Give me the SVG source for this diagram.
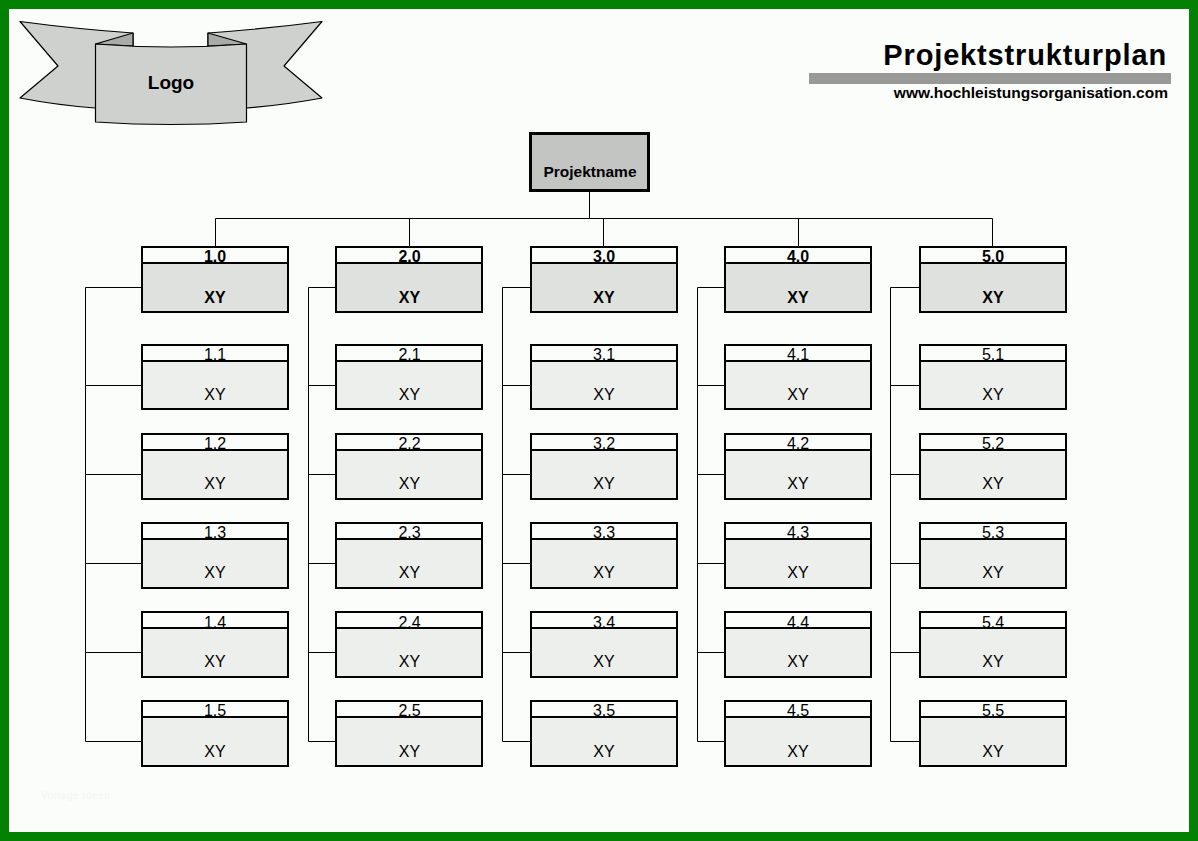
<svg xmlns="http://www.w3.org/2000/svg" width="1198" height="841" viewBox="0 0 1198 841">
<style>
text{font-family:"Liberation Sans",Arial,sans-serif;fill:#000;text-anchor:middle}
.t{font-size:16px}
.b{font-weight:bold}
.box{stroke:#000;stroke-width:2}
.hd{fill:#fbfdfa}
.m{fill:#dfe1de}
.s{fill:#edefec}
.rib{fill:#cfd1ce;stroke:#000;stroke-width:1.2;stroke-linejoin:round}
.fold{fill:#a9aba8;stroke:#000;stroke-width:1.2;stroke-linejoin:round}
#connectors path{fill:none;stroke:#000;stroke-width:1}
</style>
<rect x="4.5" y="4.5" width="1189" height="832" fill="#fbfdfa" stroke="#028102" stroke-width="9"/>
<text x="41" y="799" style="font-size:10px;letter-spacing:.6px;text-anchor:start;fill:#f3f5f1">Vorlage Ideen</text>
<g id="logo">
<path class="rib" d="M20 21.5Q76 29 133 33L133 60L95 108Q56 105 20 98L58 66Z"/>
<path class="rib" d="M322 21.5Q265 29 208 33L208 60L246 108Q285 105 322 98L284 66Z"/>
<path class="fold" d="M133 33L95.500 44L133 46Z"/>
<path class="fold" d="M208 33L246.500 44L208 46Z"/>
<path class="rib" d="M95.500 44Q171 50 246.500 44L246.500 122Q171 127 95.500 122Z"/>
<text x="171" y="89" class="b" style="font-size:19px">Logo</text>
</g>
<g id="title">
<text x="1167" y="65" class="b" style="font-size:29px;letter-spacing:.85px;text-anchor:end">Projektstrukturplan</text>
<rect x="809" y="73" width="362" height="11" fill="#999a98"/>
<text x="1168" y="98" class="b" style="font-size:15.500px;text-anchor:end">www.hochleistungsorganisation.com</text>
</g>
<g id="connectors">
<path d="M589.500 191V218.500M215.500 247V218.500H992.500V247M409.500 218.500V247M603.500 218.500V247M798.500 218.500V247"/>
<path d="M142 287.500H85.500V741.500H142M85.500 385.500H142M85.500 474.500H142M85.500 563.500H142M85.500 652.500H142"/>
<path d="M336 287.500H308.500V741.500H336M308.500 385.500H336M308.500 474.500H336M308.500 563.500H336M308.500 652.500H336"/>
<path d="M531 287.500H502.500V741.500H531M502.500 385.500H531M502.500 474.500H531M502.500 563.500H531M502.500 652.500H531"/>
<path d="M725 287.500H697.500V741.500H725M697.500 385.500H725M697.500 474.500H725M697.500 563.500H725M697.500 652.500H725"/>
<path d="M920 287.500H890.500V741.500H920M890.500 385.500H920M890.500 474.500H920M890.500 563.500H920M890.500 652.500H920"/>
</g>
<g id="root"><rect x="530.500" y="133.500" width="118" height="57" fill="#c3c5c2" stroke="#000" stroke-width="3"/><text x="590" y="177" class="b" style="font-size:15.500px">Projektname</text></g>
<g id="n1-0"><rect class="box hd" x="142" y="247" width="146" height="16"/><text x="215" y="262" class="b t">1.0</text><rect class="box m" x="142" y="263" width="146" height="49"/><text x="215" y="303" class="b t">XY</text></g>
<g id="n1-1"><rect class="box hd" x="142" y="345" width="146" height="16"/><text x="215" y="360" class="t">1.1</text><rect class="box s" x="142" y="361" width="146" height="48"/><text x="215" y="400" class="t">XY</text></g>
<g id="n1-2"><rect class="box hd" x="142" y="434" width="146" height="16"/><text x="215" y="449" class="t">1.2</text><rect class="box s" x="142" y="450" width="146" height="49"/><text x="215" y="489" class="t">XY</text></g>
<g id="n1-3"><rect class="box hd" x="142" y="523" width="146" height="16"/><text x="215" y="538" class="t">1.3</text><rect class="box s" x="142" y="539" width="146" height="49"/><text x="215" y="578" class="t">XY</text></g>
<g id="n1-4"><rect class="box hd" x="142" y="612" width="146" height="16"/><text x="215" y="627.500" class="t">1.4</text><rect class="box s" x="142" y="628" width="146" height="49"/><text x="215" y="667" class="t">XY</text></g>
<g id="n1-5"><rect class="box hd" x="142" y="701" width="146" height="16"/><text x="215" y="716" class="t">1.5</text><rect class="box s" x="142" y="717" width="146" height="49"/><text x="215" y="757" class="t">XY</text></g>
<g id="n2-0"><rect class="box hd" x="336" y="247" width="146" height="16"/><text x="409.500" y="262" class="b t">2.0</text><rect class="box m" x="336" y="263" width="146" height="49"/><text x="409.500" y="303" class="b t">XY</text></g>
<g id="n2-1"><rect class="box hd" x="336" y="345" width="146" height="16"/><text x="409.500" y="360" class="t">2.1</text><rect class="box s" x="336" y="361" width="146" height="48"/><text x="409.500" y="400" class="t">XY</text></g>
<g id="n2-2"><rect class="box hd" x="336" y="434" width="146" height="16"/><text x="409.500" y="449" class="t">2.2</text><rect class="box s" x="336" y="450" width="146" height="49"/><text x="409.500" y="489" class="t">XY</text></g>
<g id="n2-3"><rect class="box hd" x="336" y="523" width="146" height="16"/><text x="409.500" y="538" class="t">2.3</text><rect class="box s" x="336" y="539" width="146" height="49"/><text x="409.500" y="578" class="t">XY</text></g>
<g id="n2-4"><rect class="box hd" x="336" y="612" width="146" height="16"/><text x="409.500" y="627.500" class="t">2.4</text><rect class="box s" x="336" y="628" width="146" height="49"/><text x="409.500" y="667" class="t">XY</text></g>
<g id="n2-5"><rect class="box hd" x="336" y="701" width="146" height="16"/><text x="409.500" y="716" class="t">2.5</text><rect class="box s" x="336" y="717" width="146" height="49"/><text x="409.500" y="757" class="t">XY</text></g>
<g id="n3-0"><rect class="box hd" x="531" y="247" width="146" height="16"/><text x="604" y="262" class="b t">3.0</text><rect class="box m" x="531" y="263" width="146" height="49"/><text x="604" y="303" class="b t">XY</text></g>
<g id="n3-1"><rect class="box hd" x="531" y="345" width="146" height="16"/><text x="604" y="360" class="t">3.1</text><rect class="box s" x="531" y="361" width="146" height="48"/><text x="604" y="400" class="t">XY</text></g>
<g id="n3-2"><rect class="box hd" x="531" y="434" width="146" height="16"/><text x="604" y="449" class="t">3.2</text><rect class="box s" x="531" y="450" width="146" height="49"/><text x="604" y="489" class="t">XY</text></g>
<g id="n3-3"><rect class="box hd" x="531" y="523" width="146" height="16"/><text x="604" y="538" class="t">3.3</text><rect class="box s" x="531" y="539" width="146" height="49"/><text x="604" y="578" class="t">XY</text></g>
<g id="n3-4"><rect class="box hd" x="531" y="612" width="146" height="16"/><text x="604" y="627.500" class="t">3.4</text><rect class="box s" x="531" y="628" width="146" height="49"/><text x="604" y="667" class="t">XY</text></g>
<g id="n3-5"><rect class="box hd" x="531" y="701" width="146" height="16"/><text x="604" y="716" class="t">3.5</text><rect class="box s" x="531" y="717" width="146" height="49"/><text x="604" y="757" class="t">XY</text></g>
<g id="n4-0"><rect class="box hd" x="725" y="247" width="146" height="16"/><text x="798" y="262" class="b t">4.0</text><rect class="box m" x="725" y="263" width="146" height="49"/><text x="798" y="303" class="b t">XY</text></g>
<g id="n4-1"><rect class="box hd" x="725" y="345" width="146" height="16"/><text x="798" y="360" class="t">4.1</text><rect class="box s" x="725" y="361" width="146" height="48"/><text x="798" y="400" class="t">XY</text></g>
<g id="n4-2"><rect class="box hd" x="725" y="434" width="146" height="16"/><text x="798" y="449" class="t">4.2</text><rect class="box s" x="725" y="450" width="146" height="49"/><text x="798" y="489" class="t">XY</text></g>
<g id="n4-3"><rect class="box hd" x="725" y="523" width="146" height="16"/><text x="798" y="538" class="t">4.3</text><rect class="box s" x="725" y="539" width="146" height="49"/><text x="798" y="578" class="t">XY</text></g>
<g id="n4-4"><rect class="box hd" x="725" y="612" width="146" height="16"/><text x="798" y="627.500" class="t">4.4</text><rect class="box s" x="725" y="628" width="146" height="49"/><text x="798" y="667" class="t">XY</text></g>
<g id="n4-5"><rect class="box hd" x="725" y="701" width="146" height="16"/><text x="798" y="716" class="t">4.5</text><rect class="box s" x="725" y="717" width="146" height="49"/><text x="798" y="757" class="t">XY</text></g>
<g id="n5-0"><rect class="box hd" x="920" y="247" width="146" height="16"/><text x="993" y="262" class="b t">5.0</text><rect class="box m" x="920" y="263" width="146" height="49"/><text x="993" y="303" class="b t">XY</text></g>
<g id="n5-1"><rect class="box hd" x="920" y="345" width="146" height="16"/><text x="993" y="360" class="t">5.1</text><rect class="box s" x="920" y="361" width="146" height="48"/><text x="993" y="400" class="t">XY</text></g>
<g id="n5-2"><rect class="box hd" x="920" y="434" width="146" height="16"/><text x="993" y="449" class="t">5.2</text><rect class="box s" x="920" y="450" width="146" height="49"/><text x="993" y="489" class="t">XY</text></g>
<g id="n5-3"><rect class="box hd" x="920" y="523" width="146" height="16"/><text x="993" y="538" class="t">5.3</text><rect class="box s" x="920" y="539" width="146" height="49"/><text x="993" y="578" class="t">XY</text></g>
<g id="n5-4"><rect class="box hd" x="920" y="612" width="146" height="16"/><text x="993" y="627.500" class="t">5.4</text><rect class="box s" x="920" y="628" width="146" height="49"/><text x="993" y="667" class="t">XY</text></g>
<g id="n5-5"><rect class="box hd" x="920" y="701" width="146" height="16"/><text x="993" y="716" class="t">5.5</text><rect class="box s" x="920" y="717" width="146" height="49"/><text x="993" y="757" class="t">XY</text></g>
</svg>
